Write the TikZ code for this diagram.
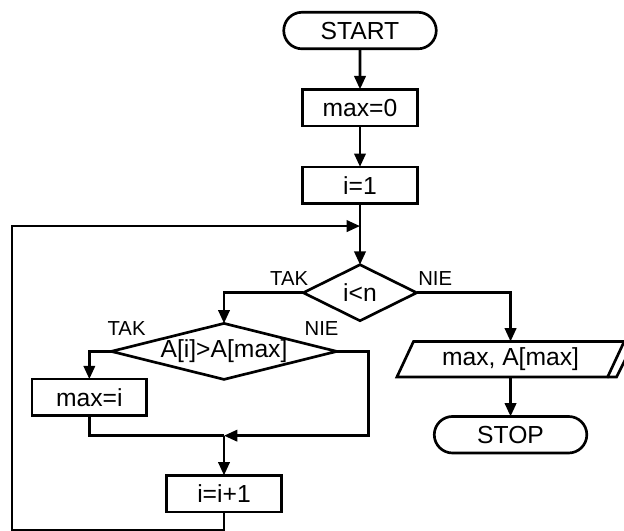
\documentclass[tikz,border=0pt]{standalone}
\usepackage{fontspec}
\setmainfont{Liberation Sans}
\usetikzlibrary{arrows.meta, positioning, shapes.geometric, shapes.misc}

\begin{document}
\begin{tikzpicture}[
  base/.style={draw, line width=2pt, font=\fontsize{18.5}{20}\selectfont, inner sep=0pt, outer sep=0pt},
  terminal/.style={base, rounded rectangle, minimum width=114.4pt, minimum height=27.4pt},
  block/.style={base, rectangle, minimum width=86pt, minimum height=27.4pt},
  decision/.style={base, diamond, aspect=3},
  io/.style={base, trapezium, trapezium left angle=63, trapezium right angle=117,
    trapezium stretches=true, minimum width=170.6pt, minimum height=26.6pt},
  lbl/.style={inner sep=0pt, font=\fontsize{15.2}{16}\selectfont},
  line/.style={-{Triangle[length=10pt, width=8.5pt]}, line width=2pt},
  link/.style={line width=2pt}
]
\useasboundingbox (0,0) rectangle (468pt,-398.25pt);

\node[terminal] (start) at (270pt,-22.9pt) {START};
\node[block, below=30.4pt of start] (max0) {max=0};
\node[block, below=30.75pt of max0] (i1) {i=1};
\coordinate[below=17pt of i1] (back);

\node[decision, below=46pt of i1, minimum width=85pt, minimum height=42pt] (dec1) {i<n};
\node[decision, aspect=4, below=2pt of dec1, xshift=-102pt,
  minimum width=169pt, minimum height=42pt] (dec2) {A[i]>A[max]};

\node[block, below=20.8pt of dec2.west, xshift=-16.5pt] (maxi) {max=i};
\node[block, below=72pt of dec2] (inc) {i=i+1};
\coordinate[above=29.8pt of inc] (join);

\node[io] (out) at ([shift={(112.9pt,-49.9pt)}]dec1) {max, A[max]};
\node[terminal, below=29.6pt of out] (stop) {STOP};
\coordinate (rim) at (9pt,0);

% branch labels
\node[lbl, above left=5.6pt and -3.75pt of dec1.west] {TAK};
\node[lbl, above right=5.6pt and 1pt of dec1.east] {NIE};
\node[lbl, above right=12pt and -3pt of dec2.west] {TAK};
\node[lbl, above left=12pt and -1.5pt of dec2.east] {NIE};

\draw[line] (start) -- (max0);
\draw[line] (max0) -- (i1);
\draw[line] (i1) -- (dec1);
\draw[line] (dec1.west) -| (dec2.north);
\draw[line] (dec1.east) -| (out.north);
\draw[line] (out) -- (stop);
\draw[link] (out.bottom right corner) -- ++(6.75pt,0) -- ++(14.25pt,28.5pt);

\draw[line] (dec2.west) -| (maxi.north);
\draw[link] (maxi) |- (join);
\draw[line] (dec2.east) -- ++(24pt,0) |- (join);
\draw[line] (join) -- (inc);

% back to the loop test
\draw[line] (inc.south) -- ++(0,-13.7pt) -| (rim |- back) -- (back);
\end{tikzpicture}
\end{document}
